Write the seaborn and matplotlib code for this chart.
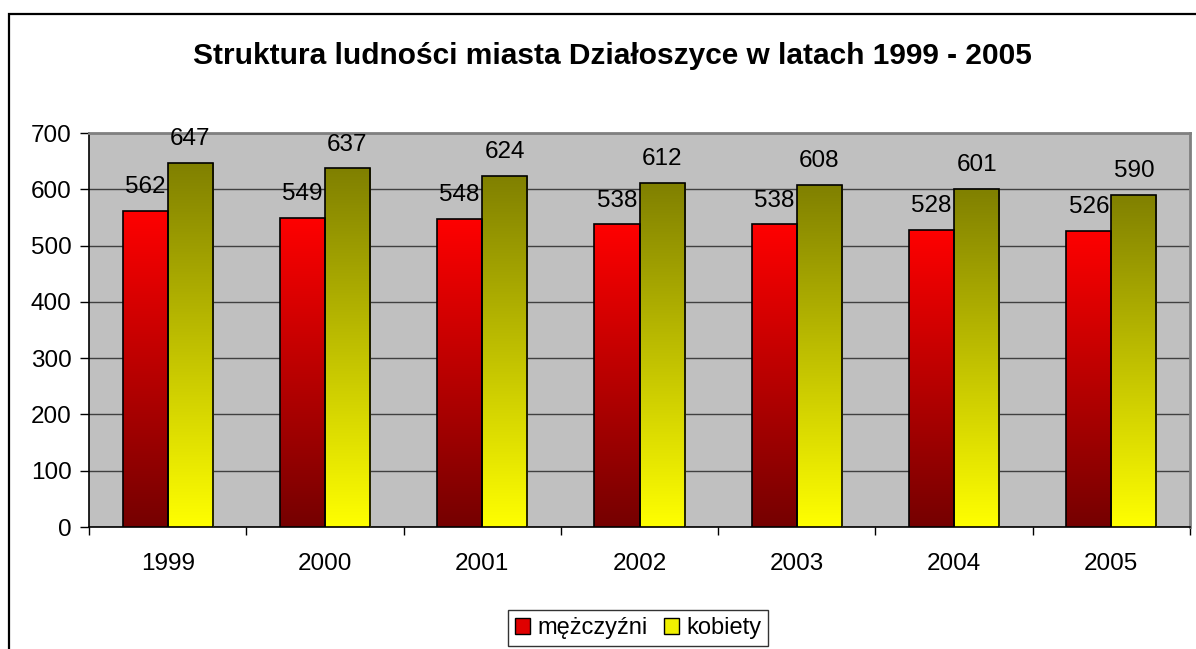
import numpy as np
import pandas as pd
import seaborn as sns
import matplotlib.pyplot as plt
from matplotlib.patches import Rectangle, Patch
from matplotlib.colors import to_rgb

years = ['1999', '2000', '2001', '2002', '2003', '2004', '2005']
mezczyzni = [562, 549, 548, 538, 538, 528, 526]
kobiety = [647, 637, 624, 612, 608, 601, 590]
series = ['mężczyźni', 'kobiety']
title = 'Struktura ludności miasta Działoszyce w latach 1999 - 2005'

# gradient colours per series (bottom, top)
grads = {'mężczyźni': ('#750000', '#ff0000'), 'kobiety': ('#ffff00', '#808000')}

df = pd.DataFrame({
    'rok': years * 2,
    'liczba': mezczyzni + kobiety,
    'plec': [series[0]] * len(years) + [series[1]] * len(years),
})

sns.set_style('white')
plt.rcParams['font.family'] = ['Liberation Sans', 'DejaVu Sans']
plt.rcParams['text.color'] = 'black'
plt.rcParams['xtick.color'] = 'black'
plt.rcParams['ytick.color'] = 'black'
plt.rcParams['axes.labelcolor'] = 'black'

fig = plt.figure(figsize=(11.96, 6.49), dpi=100)
ax = fig.add_axes([89 / 1196, 1 - 527 / 649, (1190 - 89) / 1196, (527 - 133) / 649])
ax.set_facecolor('#c0c0c0')

sns.barplot(data=df, x='rok', y='liczba', hue='plec', hue_order=series,
            palette=['#ff0000', '#ffff00'], width=0.574, edgecolor='black',
            linewidth=1.2, legend=False, ax=ax, zorder=3)

# gradient fill for each bar
for cont, name in zip(ax.containers, series):
    c0 = np.array(to_rgb(grads[name][0]))
    c1 = np.array(to_rgb(grads[name][1]))
    t = np.linspace(0, 1, 256)[:, None, None]
    img = c0 + (c1 - c0) * t
    for bar in cont:
        x, w, h = bar.get_x(), bar.get_width(), bar.get_height()
        im = ax.imshow(img, extent=[x, x + w, 0, h], origin='lower',
                       aspect='auto', zorder=2.9)
        im.set_clip_path(bar)
        bar.set_facecolor('none')
    ax.bar_label(cont, padding=9, fontsize=17.5, color='black')

ax.set_ylim(0, 700)
ax.set_xlim(-0.5, len(years) - 0.5)

ax.set_yticks(range(0, 701, 100))
ax.grid(axis='y', color='#404040', linewidth=1, zorder=1)
ax.set_axisbelow(True)
ax.tick_params(axis='y', which='major', length=6.5, width=1,
               labelsize=17.5, pad=6, left=True)
ax.set_xticks(range(len(years)))
ax.set_xticklabels(years)
ax.set_xticks(np.arange(-0.5, len(years), 1), minor=True)
ax.tick_params(axis='x', which='major', length=0, labelsize=17.5, pad=19)
ax.tick_params(axis='x', which='minor', length=6, width=1, bottom=True)
ax.set_xlabel('')
ax.set_ylabel('')

for s in ['left', 'bottom']:
    ax.spines[s].set_color('black')
    ax.spines[s].set_linewidth(1.2)
for s in ['top', 'right']:
    ax.spines[s].set_color('#808080')
    ax.spines[s].set_linewidth(2)

fig.text(0.512, 1 - 56 / 649, title, ha='center', va='center',
         fontsize=21.5, fontweight='bold')

handles = [Patch(facecolor='#e00000', edgecolor='black'),
           Patch(facecolor='#f0f000', edgecolor='black')]
leg = fig.legend(handles, series, loc='lower center', ncol=2,
                 bbox_to_anchor=(638 / 1196, 3 / 649), fontsize=17,
                 frameon=True, fancybox=False, edgecolor='black',
                 handlelength=0.65, handleheight=0.65, handletextpad=0.3,
                 columnspacing=0.7, borderpad=0.3, borderaxespad=0)
leg.get_frame().set_linewidth(1)

# outer chart border (cropped on the right and bottom)
fig.patches.append(Rectangle((9 / 1196, -0.1), 1.2, 1.1 - 14 / 649,
                             transform=fig.transFigure, fill=False,
                             edgecolor='black', linewidth=1.6))

fig.savefig('out.png', dpi=100, facecolor='white')
